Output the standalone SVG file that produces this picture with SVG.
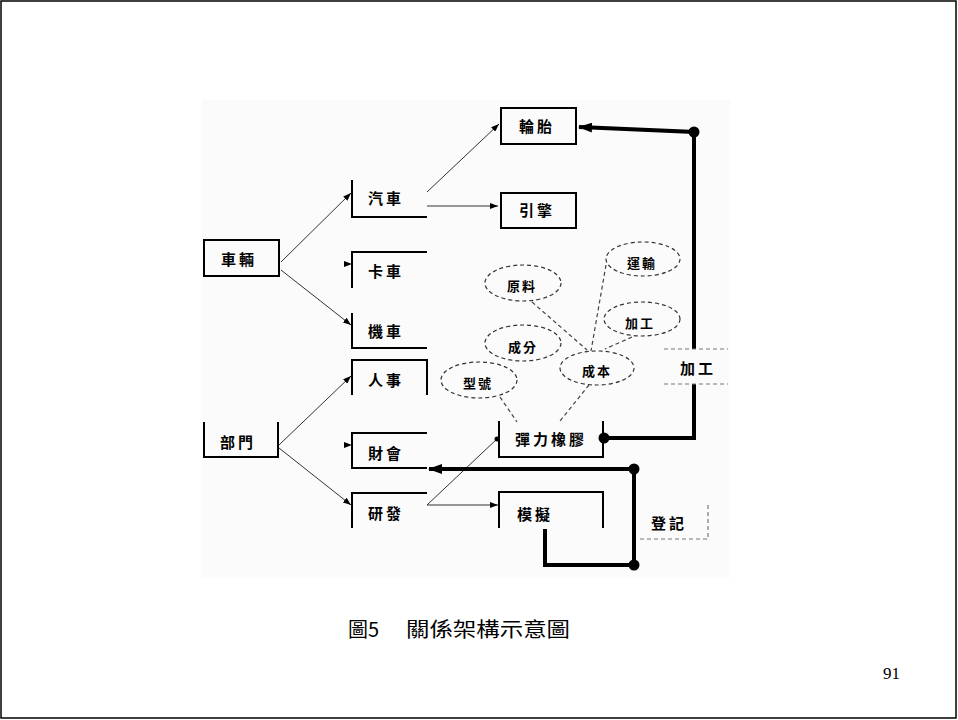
<svg xmlns="http://www.w3.org/2000/svg" width="958" height="720" viewBox="0 0 958 720">
<style>
.frame{fill:#fff;stroke:#000;stroke-width:1.5}
.bx{fill:none;stroke:#000;stroke-width:2}
.lbl{font-family:"Noto Sans CJK TC","Noto Sans CJK SC",sans-serif;font-size:15px;font-weight:bold;fill:#000;text-anchor:middle;dominant-baseline:central;letter-spacing:3px}
.el{fill:none;stroke:#333;stroke-width:1.2;stroke-dasharray:4 3}
.elbl{font-family:"Noto Sans CJK TC","Noto Sans CJK SC",sans-serif;font-size:13px;font-weight:bold;fill:#000;text-anchor:middle;dominant-baseline:central;letter-spacing:2px}
.thin{fill:none;stroke:#333;stroke-width:1}
.dl{fill:none;stroke:#444;stroke-width:1.2;stroke-dasharray:4 3}
.thick{fill:none;stroke:#000;stroke-width:4}
.rel{fill:none;stroke:#777;stroke-width:1.2;stroke-dasharray:4 3}
.cap{font-family:"Noto Sans CJK TC","Noto Sans CJK SC",sans-serif;font-size:20px;fill:#000}
</style>
<defs>
<marker id="a" markerWidth="8" markerHeight="6" refX="8" refY="3" orient="auto" markerUnits="userSpaceOnUse">
<path d="M0,0 L8,3 L0,6 z" fill="#000"/>
</marker>
<marker id="big" markerWidth="14" markerHeight="10" refX="13" refY="5" orient="auto" markerUnits="userSpaceOnUse">
<path d="M0,0 L14,5 L0,10 z" fill="#000"/>
</marker>
</defs>
<rect class="frame" x="1" y="1" width="955" height="717"/>
<rect x="202" y="100" width="528" height="478" fill="#fbfbfb"/>

<g id="connectors">
<line class="thin" x1="281" y1="262" x2="351" y2="193" marker-end="url(#a)"/>
<path d="M344,261 L352,264 L344,267 z" fill="#000"/>
<line class="thin" x1="281" y1="270" x2="351" y2="325" marker-end="url(#a)"/>
<line class="thin" x1="427" y1="192" x2="499" y2="124" marker-end="url(#a)"/>
<line class="thin" x1="427" y1="206" x2="498" y2="206" marker-end="url(#a)"/>
<line class="thin" x1="279" y1="445" x2="351" y2="376" marker-end="url(#a)"/>
<path d="M344,442 L352,445 L344,448 z" fill="#000"/>
<line class="thin" x1="279" y1="448" x2="351" y2="505" marker-end="url(#a)"/>
<polyline class="thin" points="498,438 427,505 498,505" marker-end="url(#a)"/>
<circle cx="497" cy="439" r="2.5" fill="#000"/>

<line class="dl" x1="532" y1="302" x2="587" y2="350"/>
<line class="dl" x1="606" y1="265" x2="591" y2="351"/>
<line class="dl" x1="632" y1="337" x2="605" y2="349"/>
<line class="dl" x1="500" y1="397" x2="517" y2="422"/>
<line class="dl" x1="589" y1="385" x2="560" y2="421"/>

<polyline class="thick" points="694,349 694,132 579,127" marker-end="url(#big)"/>
<polyline class="thick" points="694,384 694,438 604,438"/>
<circle cx="694" cy="132" r="5.5" fill="#000"/>
<circle cx="604" cy="438" r="5.5" fill="#000"/>
<line class="rel" x1="664" y1="349" x2="728" y2="349"/>
<line class="rel" x1="664" y1="384" x2="728" y2="384"/>

<line class="thick" x1="634" y1="469" x2="429" y2="469" marker-end="url(#big)"/>
<polyline class="thick" points="634,469 634,565 545,565 545,529"/>
<circle cx="634" cy="469" r="5.5" fill="#000"/>
<circle cx="634" cy="565" r="5.5" fill="#000"/>
<polyline class="rel" points="708,505 708,539 638,539"/>
</g>

<g id="n-vehicle"><rect class="bx" x="204" y="240" width="75" height="36"/><text class="lbl" x="239" y="258">車輛</text></g>
<g id="n-car"><polyline class="bx" points="352,180 352,217 427,217"/><text class="lbl" x="386" y="197">汽車</text></g>
<g id="n-truck"><polyline class="bx" points="352,288 352,252 427,252"/><text class="lbl" x="386" y="270">卡車</text></g>
<g id="n-moto"><polyline class="bx" points="352,313 352,348 427,348"/><text class="lbl" x="386" y="330">機車</text></g>
<g id="n-tire"><rect class="bx" x="501" y="108" width="75" height="36"/><text class="lbl" x="537" y="125">輪胎</text></g>
<g id="n-engine"><rect class="bx" x="501" y="193" width="75" height="35"/><text class="lbl" x="537" y="209">引擎</text></g>
<g id="n-dept"><polyline class="bx" points="204,422 204,457 278,457 278,422"/><text class="lbl" x="238" y="441">部門</text></g>
<g id="n-hr"><polyline class="bx" points="352,395 352,360 427,360 427,395"/><text class="lbl" x="386" y="379">人事</text></g>
<g id="n-fin"><polyline class="bx" points="427,433 352,433 352,468 427,468"/><text class="lbl" x="386" y="452">財會</text></g>
<g id="n-rd"><polyline class="bx" points="352,528 352,493 427,493"/><text class="lbl" x="386" y="512">研發</text></g>
<g id="n-rubber"><polyline class="bx" points="499,421 499,457 603,457 603,421"/><text class="lbl" x="551" y="438">彈力橡膠</text></g>
<g id="n-model"><polyline class="bx" points="499,528 499,492 603,492 603,528"/><text class="lbl" x="535" y="513">模擬</text></g>
<g id="r-process"><text class="lbl" x="698" y="367">加工</text></g>
<g id="r-register"><text class="lbl" x="669" y="522">登記</text></g>

<g id="e-raw"><ellipse class="el" cx="523" cy="283" rx="38" ry="18"/><text class="elbl" x="522" y="285">原料</text></g>
<g id="e-trans"><ellipse class="el" cx="643" cy="259" rx="37" ry="17"/><text class="elbl" x="642" y="262">運輸</text></g>
<g id="e-proc"><ellipse class="el" cx="642" cy="319" rx="38" ry="17"/><text class="elbl" x="640" y="322">加工</text></g>
<g id="e-comp"><ellipse class="el" cx="523" cy="343" rx="38" ry="18"/><text class="elbl" x="523" y="346">成分</text></g>
<g id="e-cost"><ellipse class="el" cx="597" cy="368" rx="37" ry="17"/><text class="elbl" x="597" y="370">成本</text></g>
<g id="e-type"><ellipse class="el" cx="479" cy="380" rx="38" ry="18"/><text class="elbl" x="478" y="382">型號</text></g>

<text class="cap" x="348" y="637">圖5</text>
<text class="cap" x="406" y="637" textLength="164" lengthAdjust="spacingAndGlyphs">關係架構示意圖</text>
<text x="883" y="679" font-family="Liberation Serif,serif" font-size="17" fill="#000">91</text>
</svg>
